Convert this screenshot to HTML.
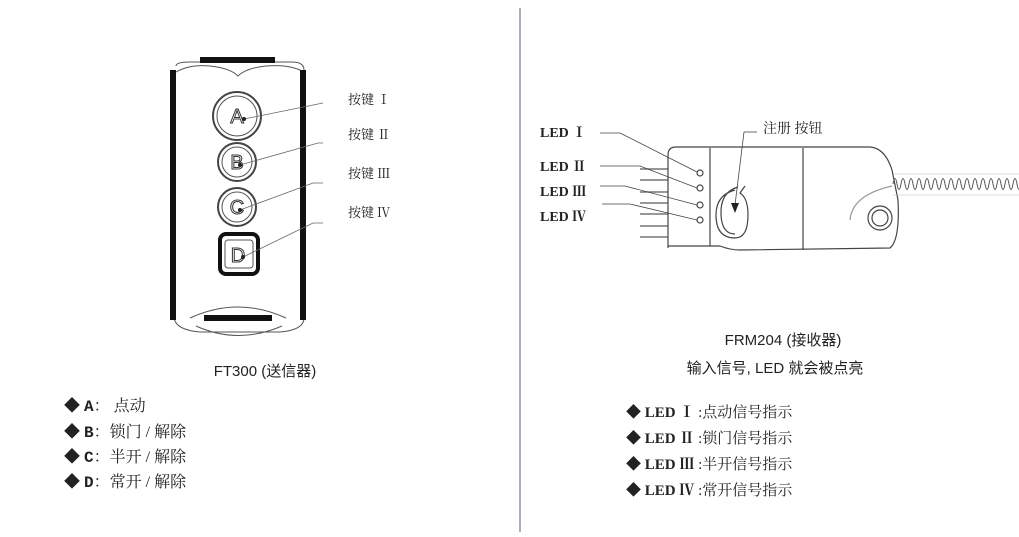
<!DOCTYPE html>
<html><head><meta charset="utf-8"><style>
body{margin:0;background:#fff;width:1019px;height:537px;overflow:hidden}
svg{display:block}
.s{font-family:"Liberation Serif","Noto Serif CJK SC",serif}
.a{font-family:"Liberation Sans","Noto Sans CJK SC",sans-serif}
</style></head><body>
<svg width="1019" height="537" viewBox="0 0 1019 537">
<line x1="520" y1="8" x2="520" y2="532" stroke="#8a96a6" stroke-width="1.5"/>
<g fill="none" stroke="#555" stroke-width="1">
<path d="M176 66 Q176 62 190 62 L200 62 M275 62 L292 62 Q304 62 304 70"/>
<path d="M176 72 Q190 64 210 66 Q230 68 238 76 Q246 68 266 66 Q290 64 304 72"/>
<path d="M174 318 Q176 330 200 332 L280 332 Q304 330 304 318"/>
<path d="M190 318 Q238 296 286 318"/>
<path d="M196 326 Q238 345 282 326"/>
<circle cx="237" cy="116" r="24" stroke="#444" stroke-width="2"/>
<circle cx="237" cy="116" r="20"/>
<circle cx="237" cy="162" r="19" stroke="#444" stroke-width="2"/>
<circle cx="237" cy="162" r="15"/>
<circle cx="237" cy="207" r="19" stroke="#444" stroke-width="2"/>
<circle cx="237" cy="207" r="15"/>
<rect x="220" y="234" width="38" height="40" rx="6" stroke="#111" stroke-width="4"/>
<rect x="225" y="240" width="28" height="28" rx="3"/>
</g>
<rect x="200" y="57" width="75" height="6" fill="#111"/>
<rect x="170" y="70" width="6" height="250" fill="#111"/>
<rect x="300" y="70" width="6" height="250" fill="#111"/>
<rect x="204" y="315" width="68" height="6" fill="#111"/>
<g class="a" font-size="20" text-anchor="middle" fill="#fff" stroke="#333" stroke-width="1">
<text x="237" y="123">A</text><text x="237" y="169">B</text><text x="237" y="214">C</text><text x="238" y="262">D</text>
</g>
<g stroke="#666" stroke-width="0.8" fill="none">
<polyline points="244,119 323,103"/>
<polyline points="240,165 318,143 323,143"/>
<polyline points="240,210 313,183 323,183"/>
<polyline points="243,257 313,223 323,223"/>
</g>
<g fill="#222"><circle cx="244" cy="119" r="2"/><circle cx="240" cy="165" r="2"/><circle cx="240" cy="210" r="2"/><circle cx="243" cy="257" r="2"/></g>
<g class="s" font-size="13" fill="#222">
<text x="348" y="104">按键 Ⅰ</text><text x="348" y="139">按键 Ⅱ</text><text x="348" y="178">按键 Ⅲ</text><text x="348" y="217">按键 Ⅳ</text>
</g>
<text class="a" x="265" y="376" font-size="15" text-anchor="middle" fill="#222">FT300 (送信器)</text>
<g class="s" font-size="16" fill="#222">
<text x="64" y="411">◆ <tspan font-family="Liberation Mono" font-weight="bold">A</tspan>： 点动</text>
<text x="64" y="437">◆ <tspan font-family="Liberation Mono" font-weight="bold">B</tspan>：锁门 / 解除</text>
<text x="64" y="462">◆ <tspan font-family="Liberation Mono" font-weight="bold">C</tspan>：半开 / 解除</text>
<text x="64" y="487">◆ <tspan font-family="Liberation Mono" font-weight="bold">D</tspan>：常开 / 解除</text>
</g>
<g stroke="#777" stroke-width="1.5">
<line x1="640" y1="169" x2="668" y2="169"/><line x1="640" y1="180" x2="668" y2="180"/>
<line x1="640" y1="192" x2="668" y2="192"/><line x1="640" y1="203" x2="668" y2="203"/>
<line x1="640" y1="214" x2="668" y2="214"/><line x1="640" y1="226" x2="668" y2="226"/>
<line x1="640" y1="237" x2="668" y2="237"/>
</g>
<g fill="none" stroke="#444" stroke-width="1.2">
<path d="M668 248 L668 155 Q668 147 676 147 L870 147 Q885 148 892 170 L898 200 Q900 240 890 248 L740 250 Q730 250 720 246 L668 246"/>
<line x1="710" y1="148" x2="710" y2="246"/>
<line x1="803" y1="148" x2="803" y2="250"/>
<circle cx="880" cy="218" r="12"/><circle cx="880" cy="218" r="8"/>
<path d="M850 220 Q852 195 892 186" stroke="#999"/>
<circle cx="700" cy="173" r="3"/><circle cx="700" cy="188" r="3"/><circle cx="700" cy="205" r="3"/><circle cx="700" cy="220" r="3"/>
<path d="M735 190 Q716 195 716 215 Q716 238 735 238 Q748 238 748 215 Q748 198 740 193 L745 186"/>
<path d="M738 187 Q720 192 721 215 Q722 234 735 234"/>
</g>
<path id="coil" d="M893 184 q2 -11 4 0 q2 11 4 0 q2 -11 4 0 q2 11 4 0 q2 -11 4 0 q2 11 4 0 q2 -11 4 0 q2 11 4 0 q2 -11 4 0 q2 11 4 0 q2 -11 4 0 q2 11 4 0 q2 -11 4 0 q2 11 4 0 q2 -11 4 0 q2 11 4 0 q2 -11 4 0 q2 11 4 0 q2 -11 4 0 q2 11 4 0 q2 -11 4 0 q2 11 4 0 q2 -11 4 0 q2 11 4 0 q2 -11 4 0 q2 11 4 0 q2 -11 4 0 q2 11 4 0 q2 -11 4 0 q2 11 4 0 q2 -11 4 0 q2 11 4 0" fill="none" stroke="#555" stroke-width="1"/>
<path d="M893 174 H1019 M893 195 H1019" stroke="#bbb" stroke-width="0.6"/>
<g stroke="#444" stroke-width="0.8" fill="none">
<polyline points="600,133 620,133 697,172"/>
<polyline points="600,166 640,166 697,188"/>
<polyline points="600,186 625,186 697,205"/>
<polyline points="602,204 630,204 697,220"/>
<line x1="757" y1="132" x2="744" y2="132"/>
<line x1="744" y1="132" x2="735" y2="205"/>
</g>
<path d="M731 203 L735 213 L739 203 Z" fill="#222"/>
<g class="s" font-size="14" font-weight="bold" fill="#222">
<text x="540" y="137">LED Ⅰ</text><text x="540" y="171">LED Ⅱ</text><text x="540" y="196">LED Ⅲ</text><text x="540" y="221">LED Ⅳ</text>
</g>
<text class="s" x="763" y="133" font-size="14" fill="#222">注册 按钮</text>
<text class="a" x="783" y="345" font-size="15" text-anchor="middle" fill="#222">FRM204 (接收器)</text>
<text class="a" x="775" y="373" font-size="15" text-anchor="middle" fill="#222">输入信号, LED 就会被点亮</text>
<g class="s" font-size="15" fill="#222">
<text x="626" y="417">◆ <tspan font-weight="bold">LED Ⅰ</tspan> :点动信号指示</text>
<text x="626" y="443">◆ <tspan font-weight="bold">LED Ⅱ</tspan> :锁门信号指示</text>
<text x="626" y="469">◆ <tspan font-weight="bold">LED Ⅲ</tspan> :半开信号指示</text>
<text x="626" y="495">◆ <tspan font-weight="bold">LED Ⅳ</tspan> :常开信号指示</text>
</g>
</svg>
</body></html>
